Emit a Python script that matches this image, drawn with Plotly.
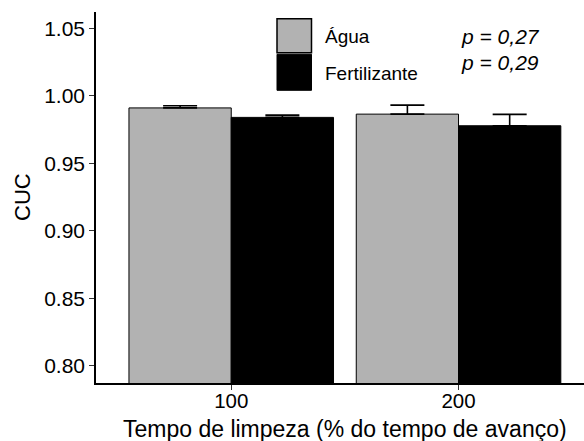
import plotly.graph_objects as go

# Data
categories = ["100", "200"]
agua = [0.9910, 0.9864]
agua_err = [0.0016, 0.0067]
fert = [0.9840, 0.9778]
fert_err = [0.0017, 0.0084]
y_ticks = [0.80, 0.85, 0.90, 0.95, 1.00, 1.05]
y_ticklabels = ["0.80", "0.85", "0.90", "0.95", "1.00", "1.05"]
p_labels = ["p = 0,27", "p = 0,29"]
legend_names = ["Água", "Fertilizante"]

FONT = "Liberation Sans, Arial, sans-serif"
W, H = 584, 441
ML, MR, MT, MB = 96, 0, 12, 58
PW, PH = W - ML - MR, H - MT - MB

def px(x):
    return (x - ML) / PW

def py(y):
    return (H - MB - y) / PH

xpos = [1, 2]

fig = go.Figure()
fig.add_trace(go.Bar(
    x=xpos, y=agua, name=legend_names[0],
    marker=dict(color="#B2B2B2", line=dict(color="black", width=1)),
    error_y=dict(type="data", symmetric=False, array=agua_err, arrayminus=[0, 0],
                 color="black", thickness=1.6, width=17),
))
fig.add_trace(go.Bar(
    x=xpos, y=fert, name=legend_names[1],
    marker=dict(color="black", line=dict(color="black", width=1)),
    error_y=dict(type="data", symmetric=False, array=fert_err, arrayminus=[0, 0],
                 color="black", thickness=1.6, width=17),
))

fig.update_layout(
    width=W, height=H, autosize=False,
    margin=dict(l=ML, r=MR, t=MT, b=MB),
    paper_bgcolor="white", plot_bgcolor="white",
    barmode="group", bargap=0.1, bargroupgap=0,
    showlegend=False,
    font=dict(family=FONT, color="black"),
)
fig.update_xaxes(
    range=[0.405, 2.552], tickvals=xpos, ticktext=categories,
    showline=True, linecolor="black", linewidth=1.5,
    ticks="outside", ticklen=5, tickwidth=1.2, tickcolor="#333333",
    tickfont=dict(size=20.5, color="black", family=FONT),
    ticklabelstandoff=-6,
    showgrid=False, zeroline=False,
)
fig.update_yaxes(
    range=[0.7874, 1.062], tickvals=y_ticks, ticktext=y_ticklabels,
    showline=True, linecolor="black", linewidth=1.5,
    ticks="outside", ticklen=5, tickwidth=1.2, tickcolor="#333333",
    tickfont=dict(size=21, color="black", family=FONT),
    showgrid=False, zeroline=False,
)

# Axis titles
fig.add_annotation(text="CUC", xref="paper", yref="paper", x=px(22), y=py(197),
                   showarrow=False, textangle=-90, font=dict(size=22, family=FONT),
                   xanchor="center", yanchor="middle")
fig.add_annotation(text="Tempo de limpeza (% do tempo de avanço)", xref="paper", yref="paper",
                   x=px(345), y=py(429), showarrow=False, font=dict(size=23, family=FONT),
                   xanchor="center", yanchor="middle")

# Legend keys
fig.add_shape(type="rect", xref="paper", yref="paper",
              x0=px(277), x1=px(311.5), y0=py(52.7), y1=py(18.7),
              fillcolor="#B2B2B2", line=dict(color="black", width=1.5))
fig.add_shape(type="rect", xref="paper", yref="paper",
              x0=px(277), x1=px(311.5), y0=py(90.3), y1=py(54.3),
              fillcolor="black", line=dict(color="black", width=1))
fig.add_annotation(text=legend_names[0], xref="paper", yref="paper", x=px(323), y=py(37),
                   showarrow=False, xanchor="left", yanchor="middle", font=dict(size=19, family=FONT))
fig.add_annotation(text=legend_names[1], xref="paper", yref="paper", x=px(323), y=py(73),
                   showarrow=False, xanchor="left", yanchor="middle", font=dict(size=19, family=FONT))

# p-values
fig.add_annotation(text="<i>" + p_labels[0] + "</i>", xref="paper", yref="paper", x=px(459), y=py(37),
                   showarrow=False, xanchor="left", yanchor="middle", font=dict(size=21, family=FONT))
fig.add_annotation(text="<i>" + p_labels[1] + "</i>", xref="paper", yref="paper", x=px(459), y=py(62),
                   showarrow=False, xanchor="left", yanchor="middle", font=dict(size=21, family=FONT))

fig.write_html("out.html", config={"displayModeBar": False},
               post_script="document.body.style.margin='0';document.body.style.overflow='hidden';")
